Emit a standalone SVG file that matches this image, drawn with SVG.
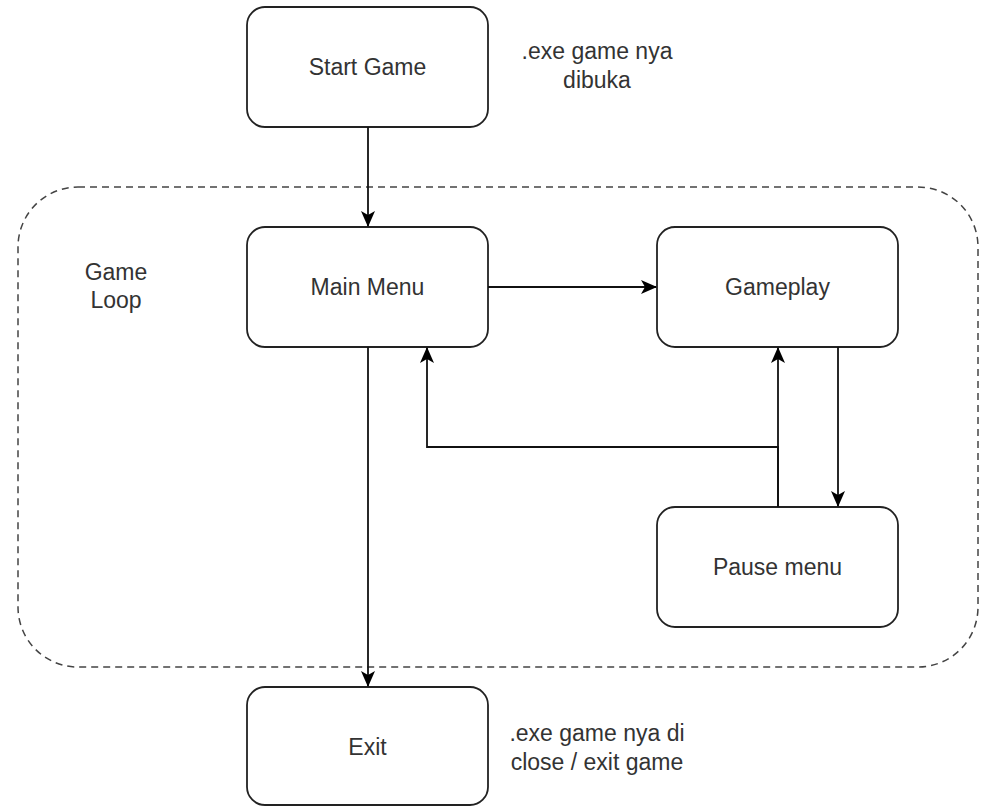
<svg xmlns="http://www.w3.org/2000/svg" width="982" height="807" viewBox="0 0 982 807">
<defs>
<marker id="arr" markerUnits="userSpaceOnUse" markerWidth="16" markerHeight="14" viewBox="0 0 16 14" refX="15" refY="7" orient="auto">
<path d="M0,0 L16,7 L0,14 L4,7 z" fill="#000"/>
</marker>
<style>
.box{fill:#fff;stroke:#222;stroke-width:1.8}
.lbl{font-family:"Liberation Sans",Arial,sans-serif;font-size:23px;fill:#333;text-anchor:middle}
.edge{fill:none;stroke:#111;stroke-width:1.8}
.dash{fill:none;stroke:#444;stroke-width:1.5;stroke-dasharray:7 5}
</style>
</defs>
<rect width="982" height="807" fill="#fff"/>
<g id="game-loop">
<rect class="dash" x="18" y="187" width="960" height="480" rx="60" ry="60"/>
<text class="lbl" x="116" y="280">Game</text>
<text class="lbl" x="116" y="308">Loop</text>
</g>
<g id="start-game">
<rect class="box" x="247" y="7" width="241" height="120" rx="18"/>
<text class="lbl" x="367.5" y="75">Start Game</text>
</g>
<g id="note-start">
<text class="lbl" x="597" y="59">.exe game nya</text>
<text class="lbl" x="597" y="88">dibuka</text>
</g>
<g id="main-menu">
<rect class="box" x="247" y="227" width="241" height="120" rx="18"/>
<text class="lbl" x="367.5" y="295">Main Menu</text>
</g>
<g id="gameplay">
<rect class="box" x="657" y="227" width="241" height="120" rx="18"/>
<text class="lbl" x="777.5" y="295">Gameplay</text>
</g>
<g id="pause-menu">
<rect class="box" x="657" y="507" width="241" height="120" rx="18"/>
<text class="lbl" x="777.5" y="575">Pause menu</text>
</g>
<g id="exit">
<rect class="box" x="247" y="687" width="241" height="118" rx="18"/>
<text class="lbl" x="367.5" y="755">Exit</text>
</g>
<g id="note-exit">
<text class="lbl" x="597" y="741">.exe game nya di</text>
<text class="lbl" x="597" y="770">close / exit game</text>
</g>
<g id="connectors">
<path class="edge" d="M368,127 L368,226" marker-end="url(#arr)"/>
<path class="edge" d="M488,287 L656,287" marker-end="url(#arr)"/>
<path class="edge" d="M368,347 L368,686" marker-end="url(#arr)"/>
<path class="edge" d="M838,347 L838,506" marker-end="url(#arr)"/>
<path class="edge" d="M778,507 L778,348" marker-end="url(#arr)"/>
<path class="edge" d="M778,507 L778,447 L427,447 L427,348" marker-end="url(#arr)"/>
</g>
</svg>
